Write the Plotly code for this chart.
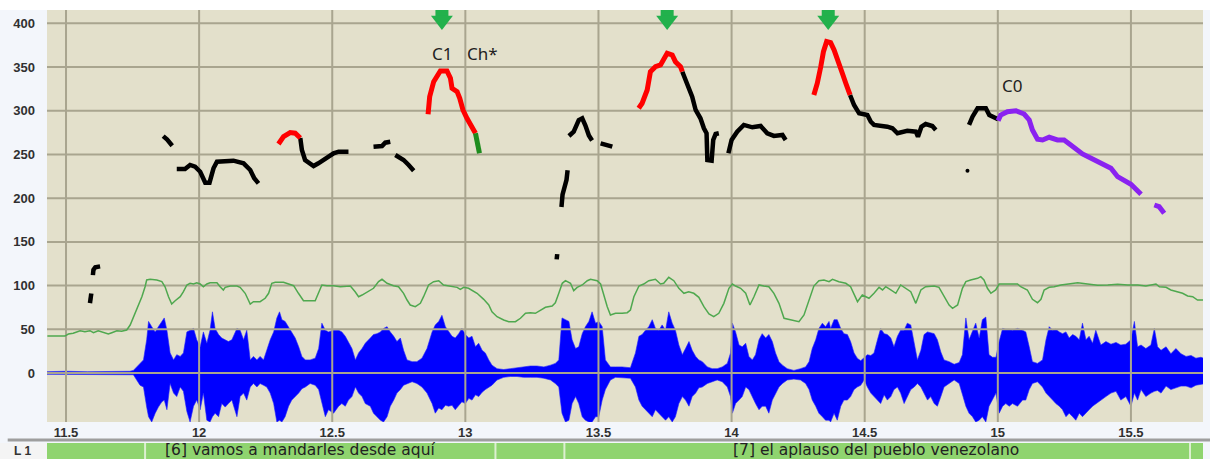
import plotly.graph_objects as go

# axis ticks
tick_t = [11.5, 12, 12.5, 13, 13.5, 14, 14.5, 15, 15.5]
tick_txt = ["11.5", "12", "12.5", "13", "13.5", "14", "14.5", "15", "15.5"]
f0_ticks = [0, 50, 100, 150, 200, 250, 300, 350, 400]
T0, T1 = 11.4286, 15.7707
V0, V1 = -56.06, 415.3

# waveform envelope (upper / lower)
wave_t = [11.42, 11.50, 11.58, 11.66, 11.74,
          11.753, 11.766, 11.778, 11.791, 11.803, 11.810, 11.822, 11.835, 11.847, 11.860, 11.869, 11.879, 11.891,
          11.904, 11.916, 11.929, 11.941, 11.954, 11.966, 11.979, 11.991, 12.004, 12.016, 12.029, 12.041, 12.050,
          12.060, 12.073, 12.085, 12.098, 12.110, 12.123, 12.142, 12.154, 12.167, 12.179, 12.192, 12.204, 12.217,
          12.229, 12.242, 12.254, 12.267, 12.280, 12.292, 12.302, 12.311, 12.323, 12.336, 12.348, 12.361, 12.374,
          12.386, 12.399, 12.417, 12.436, 12.449, 12.461, 12.474, 12.486, 12.505, 12.524, 12.536, 12.549, 12.561,
          12.574, 12.587, 12.599, 12.612, 12.624, 12.643, 12.655, 12.668, 12.681, 12.693, 12.706, 12.718, 12.731,
          12.743, 12.756, 12.768, 12.781, 12.800, 12.818, 12.837, 12.856, 12.875, 12.887,
          12.900, 12.912, 12.925, 12.937, 12.950, 12.962, 12.975, 12.987, 13.000, 13.013, 13.025, 13.038, 13.050,
          13.063, 13.075, 13.088, 13.100, 13.119, 13.144, 13.169, 13.194, 13.219, 13.244, 13.269, 13.295, 13.320,
          13.338, 13.351, 13.363, 13.376, 13.389, 13.401, 13.414, 13.426, 13.439, 13.451, 13.464, 13.476, 13.489,
          13.501, 13.514, 13.526, 13.545, 13.564, 13.589, 13.620, 13.639, 13.652, 13.664, 13.677, 13.689, 13.702,
          13.714, 13.727, 13.739, 13.752, 13.764, 13.777, 13.789, 13.802, 13.815, 13.827, 13.840, 13.852, 13.865,
          13.877, 13.890, 13.909, 13.927, 13.946, 13.965, 13.984, 13.996, 14.003, 14.015, 14.028, 14.040, 14.053,
          14.065, 14.078, 14.090, 14.103, 14.115, 14.128, 14.140, 14.153, 14.165, 14.178, 14.191, 14.209, 14.234,
          14.259, 14.278, 14.291, 14.303, 14.316, 14.328, 14.341, 14.353, 14.366,
          14.372, 14.385, 14.397, 14.410, 14.422, 14.435, 14.447, 14.460, 14.472, 14.485, 14.498, 14.510, 14.523,
          14.535, 14.548, 14.560, 14.573, 14.585, 14.598, 14.610, 14.623, 14.635, 14.648, 14.660, 14.673, 14.686,
          14.698, 14.711, 14.723, 14.736, 14.748, 14.761, 14.773, 14.786, 14.798, 14.817, 14.836, 14.855, 14.867,
          14.880, 14.892, 14.905, 14.917, 14.930, 14.942, 14.955, 14.967, 14.980, 14.993, 15.005, 15.018, 15.030,
          15.043, 15.055, 15.074, 15.093, 15.105, 15.118, 15.130, 15.149, 15.168, 15.181, 15.193, 15.206, 15.218,
          15.231, 15.243, 15.256, 15.268, 15.281, 15.293, 15.306, 15.318, 15.331, 15.343, 15.356, 15.368, 15.387,
          15.406, 15.425, 15.444, 15.462, 15.481, 15.500, 15.513, 15.525, 15.538, 15.556, 15.575, 15.588, 15.600,
          15.613, 15.632, 15.650, 15.669, 15.688, 15.707, 15.726, 15.744, 15.763, 15.782]
wave_hi = [1.5, 2, 1.5, 2, 2,
           3, 7, 11, 15, 38, 59, 53, 47, 53, 59, 63, 49, 23, 15, 21, 19, 23, 47, 49, 51, 38, 30, 47, 34, 49, 70,
           51, 44, 40, 38, 36, 38, 51, 49, 38, 49, 15, 19, 15, 19, 15, 26, 38, 47, 63, 70, 61, 59, 53, 47, 40, 30,
           19, 15, 15, 17, 28, 57, 49, 47, 49, 49, 47, 42, 36, 28, 15, 23, 28, 34, 40, 44, 45, 47, 51, 53, 47, 42,
           36, 40, 26, 15, 13, 13, 17, 28, 47, 55,
           59, 66, 53, 47, 42, 40, 45, 51, 44, 40, 42, 30, 34, 26, 23, 15, 9, 5, 4, 5, 6, 7, 8, 8, 7, 9, 11, 15,
           63, 61, 59, 38, 28, 30, 45, 53, 59, 70, 57, 59, 53, 15, 7, 7, 7, 6, 23, 42, 44, 49, 53, 61, 51, 49, 55,
           49, 70, 57, 49, 32, 21, 28, 36, 26, 19, 15, 13, 7, 5, 5, 7, 11, 23, 57, 47, 32, 30, 34, 19, 15, 21, 38,
           45, 40, 44, 36, 23, 13, 9, 5, 3, 5, 7, 13, 28, 38, 51, 57, 53, 59,
           51, 61, 61, 51, 45, 44, 36, 23, 17, 14, 18, 21, 20, 23, 38, 51, 45, 44, 40, 30, 42, 49, 49, 57, 55, 32,
           15, 26, 44, 47, 46, 45, 38, 24, 15, 13, 10, 12, 21, 63, 38, 49, 57, 40, 61, 64, 21, 18, 18, 36, 51, 50,
           50, 49, 51, 49, 47, 30, 13, 11, 15, 38, 53, 49, 50, 47, 45, 47, 40, 44, 42, 38, 57, 38, 42, 34, 49, 32,
           36, 33, 35, 32, 33, 38, 59, 30, 32, 28, 32, 51, 30, 26, 30, 22, 28, 22, 19, 20, 17, 18, 16]
wave_lo = [-1.5, -2, -1.5, -2, -2,
           -2, -8, -14, -16, -39, -50, -56, -46, -39, -33, -31, -42, -12, -23, -27, -16, -21, -44, -56, -38, -31,
           -42, -23, -54, -56, -50, -46, -50, -35, -39, -35, -31, -50, -27, -23, -31, -16, -12, -16, -12, -14, -16,
           -23, -35, -56, -54, -56, -50, -38, -31, -27, -23, -18, -16, -12, -14, -19, -35, -50, -42, -46, -38, -35,
           -38, -31, -27, -16, -23, -27, -35, -38, -46, -50, -54, -56, -50, -38, -31, -23, -19, -14, -12, -10, -12,
           -16, -23, -35, -46,
           -40, -42, -37, -38, -37, -42, -38, -33, -35, -29, -31, -25, -27, -22, -19, -16, -14, -8, -5, -4, -4, -5,
           -5, -5, -6, -8, -12, -16, -46, -56, -54, -35, -27, -35, -50, -54, -56, -56, -50, -50, -31, -19, -8, -5,
           -5, -6, -16, -31, -38, -42, -46, -50, -42, -46, -50, -54, -50, -56, -50, -35, -27, -31, -38, -27, -23,
           -17, -16, -12, -10, -8, -10, -16, -27, -46, -35, -31, -27, -16, -19, -27, -35, -42, -38, -38, -46, -31,
           -23, -16, -12, -8, -7, -8, -12, -19, -31, -38, -46, -50, -54, -54,
           -56, -46, -54, -38, -31, -31, -27, -19, -16, -14, -8, -16, -23, -27, -31, -35, -25, -31, -27, -19, -16,
           -23, -35, -27, -19, -16, -12, -16, -23, -31, -27, -35, -38, -27, -16, -12, -8, -12, -23, -38, -46, -50,
           -56, -54, -50, -56, -38, -31, -23, -46, -38, -35, -38, -35, -38, -31, -31, -19, -12, -10, -16, -23, -27,
           -31, -35, -38, -42, -50, -46, -50, -54, -46, -50, -46, -42, -38, -35, -31, -27, -23, -21, -31, -27, -38,
           -23, -31, -19, -27, -23, -21, -20, -23, -15, -19, -17, -15, -15, -17, -14, -13, -12]

# intensity curve
inten_t = [11.430, 11.496, 11.509, 11.527, 11.553, 11.571, 11.590, 11.603, 11.621, 11.640, 11.659, 11.672,
           11.691, 11.709, 11.728, 11.741, 11.759, 11.772, 11.785, 11.797, 11.803, 11.816, 11.841, 11.860,
           11.872, 11.885, 11.897, 11.910, 11.929, 11.941, 11.954, 11.966, 11.979, 11.991, 12.004, 12.016,
           12.029, 12.041, 12.067, 12.079, 12.091, 12.098, 12.117, 12.142, 12.154, 12.173, 12.192, 12.204,
           12.229, 12.248, 12.261, 12.273, 12.286, 12.317, 12.336, 12.355, 12.373, 12.392, 12.436, 12.449,
           12.461, 12.480, 12.505, 12.530, 12.549, 12.568, 12.586, 12.599, 12.612, 12.636, 12.655, 12.674,
           12.687, 12.706, 12.730, 12.749, 12.768, 12.781, 12.793, 12.812, 12.831, 12.843, 12.862, 12.881,
           12.900, 12.918, 12.944, 12.969, 12.981, 12.994, 13.012, 13.025, 13.044, 13.069, 13.088, 13.100,
           13.119, 13.144, 13.163, 13.188, 13.207, 13.226, 13.244, 13.263, 13.282, 13.301, 13.326, 13.338,
           13.351, 13.364, 13.376, 13.395, 13.407, 13.420, 13.439, 13.458, 13.470, 13.495, 13.508, 13.520,
           13.533, 13.545, 13.564, 13.589, 13.608, 13.620, 13.633, 13.652, 13.670, 13.689, 13.714, 13.733,
           13.745, 13.764, 13.783, 13.802, 13.821, 13.839, 13.858, 13.877, 13.896, 13.915, 13.933, 13.952,
           13.971, 13.990, 14.003, 14.015, 14.034, 14.053, 14.069, 14.084, 14.103, 14.121, 14.140, 14.159,
           14.178, 14.197, 14.215, 14.241, 14.253, 14.272, 14.297, 14.309, 14.328, 14.347, 14.366, 14.379,
           14.403, 14.429, 14.447, 14.473, 14.491, 14.516, 14.535, 14.554, 14.567, 14.579, 14.598, 14.617,
           14.635, 14.654, 14.673, 14.692, 14.711, 14.729, 14.761, 14.779, 14.798, 14.817, 14.830, 14.849,
           14.867, 14.880, 14.898, 14.924, 14.936, 14.948, 14.961, 14.974, 14.992, 15.005, 15.036, 15.074,
           15.086, 15.111, 15.130, 15.149, 15.162, 15.174, 15.193, 15.212, 15.237, 15.268, 15.300, 15.337,
           15.375, 15.413, 15.450, 15.488, 15.526, 15.556, 15.582, 15.594, 15.607, 15.632, 15.650, 15.669,
           15.694, 15.713, 15.732, 15.750, 15.775]
inten_v = [42.3, 42.3, 44.6, 45.4, 48.4, 47.3, 48.4, 46.1, 48.4, 46.1, 44.6, 46.1, 48.4, 47.7, 49.2, 54.9,
           68.3, 75.9, 87.3, 98.7, 106.4, 107.2, 106.4, 104.5, 98.7, 87.3, 78.9, 82.7, 87.3, 93, 100.7, 102.6,
           101.8, 103.3, 101.8, 98.7, 101.8, 103.3, 103.3, 98.7, 95, 98, 99.5, 99.5, 98, 91.2, 78.9, 81.6,
           81.6, 85.5, 91.2, 102.6, 103.8, 103.8, 101.8, 99.9, 91.2, 82.7, 82.7, 91.2, 100.7, 99.9, 99.9, 98.7,
           98.7, 99.5, 93, 87.3, 89.2, 93, 96.9, 104.5, 107.2, 102.6, 99.9, 98.7, 91.2, 83.5, 77.8, 75.9, 79.7,
           87.3, 100.7, 104.5, 105.6,
           100.7, 99.5, 98, 95.7, 98, 96.9, 94.2, 91.2, 84.3, 77.8, 70.1, 64.4, 60.6, 58.7, 58.7, 62.6, 68.3,
           69, 68.3, 72.1, 75.2, 76.7, 80.4, 91.2, 102.6, 105.6, 102.6, 94.2, 98, 100.7, 105.6, 107.2, 105.6,
           101.8, 89.2, 75.9, 66.4, 68.3, 68.3, 69, 72.1, 87.3, 99.5, 101.8, 105.6, 107.2, 101.8, 102.6, 109.5,
           105.6, 96.9, 91.2, 93, 91.2, 86.6, 75.9, 67.5, 64.4, 68.3, 79.7, 96.9, 101.8, 99.5, 96.9, 91.2, 77.8,
           87.3, 100.7, 99.5, 98.7, 91.2, 79.7, 62.6, 61.4, 59.8, 58.7, 66.4, 87.3, 99.5, 105.6, 106.4, 104.5,
           107.2, 104.5, 102.6, 98.7, 81.6, 89.2, 85.5, 91.2, 98, 95, 98.7, 95, 91.2, 100.7, 96.9, 93, 79.7, 95,
           98.7, 99.5, 98, 87.3, 77.8, 74, 77.8, 96.9, 104.5, 106.4, 108.3, 110.2, 106.4, 96.9, 91.2, 95, 101.8,
           101.8, 101.8, 98.7, 95, 84.3, 80.4, 84.3, 95, 98, 98.7, 100.7, 101.8, 103.3, 101.8, 100.3, 100.7,
           101.5, 100.7, 100.7, 99.5, 100.7, 101.8, 98.7, 98, 95, 93, 91.2, 88.1, 87.3, 83.5, 83.5]

# pitch contour (Hz), pieces split by None
black_t = [11.590, 11.593, 11.595, None,
           11.601, 11.603, 11.610, 11.628, None,
           11.865, 11.880, 11.899, None,
           11.916, 11.947, 11.966, 11.985, 12.004, 12.023, 12.039, 12.054, 12.067, 12.091, 12.129, 12.167,
           12.192, 12.207, 12.223, None,
           12.380, 12.386, 12.398, 12.430, 12.448, 12.474, 12.505, 12.524, 12.561, None,
           12.655, 12.687, 12.699, 12.718, None,
           12.737, 12.768, 12.787, 12.806, None,
           13.343, 13.345, None,
           13.361, 13.365, 13.380, 13.384, None,
           13.389, 13.407, 13.426, 13.439, 13.451, 13.464, 13.476, None,
           13.508, 13.552, None,
           13.815, 13.833, 13.852, 13.865, 13.883, 13.896, 13.906, 13.909, 13.925, 13.931, 13.940, 13.952, None,
           13.988, 14.000, 14.021, 14.046, 14.078, 14.109, 14.134, 14.159, 14.191, 14.203, None,
           14.445, 14.460, 14.479, 14.510, 14.523, 14.535, 14.585, 14.604, 14.623, 14.635, 14.660, 14.692,
           14.700, 14.713, 14.729, 14.754, 14.767, None,
           14.892, 14.905, 14.924, 14.955, 14.968, 14.987, 15.001]
black_v = [80, 84, 91, None,
           112, 118, 121, 122, None,
           271, 267, 260, None,
           233.4, 233.4, 238, 236, 230.3, 217.7, 217.7, 234.2, 241.8, 241.8, 242.9, 239.9, 232.3, 222.8, 217,
           None,
           268.9, 255.1, 243.7, 236.8, 239.9, 245.7, 251.4, 253.2, 253.2, None,
           258.9, 259.7, 263.5, 264.6, None,
           249.4, 243.7, 238, 231.5, None,
           130, 136, None,
           190, 204, 221, 232, None,
           271.2, 276.1, 289.4, 291.4, 283.2, 271.7, 266, None,
           262.8, 258.9, None,
           344.7, 329.5, 316.1, 300.9, 291.4, 280, 274.3, 243.7, 242.9, 266.6, 273.5, 274.3, None,
           251.4, 266.6, 276.1, 283.8, 281.1, 282.6, 274.3, 271.2, 272.3, 266.6, None,
           318.1, 306.6, 297.1, 295.2, 287.5, 283.8, 281.8, 280, 274.3, 274.9, 277.2, 276.1, 270.4, 281.8,
           284.9, 282.6, 278, None,
           283.8, 293.2, 302.9, 302.9, 295.2, 292.6, 290.3]
dot_t = [14.886]
dot_v = [231.5]
red_t = [12.298, 12.317, 12.342, 12.361, 12.380, None,
         12.860, 12.866, 12.881, 12.906, 12.931, 12.944, 12.950, 12.969, 12.979, 12.991, 13.006, 13.025, 13.038,
         None,
         13.651, 13.664, 13.683, 13.695, 13.714, 13.733, 13.758, 13.777, 13.789, 13.808, 13.815, None,
         14.309, 14.322, 14.335, 14.345, 14.357, 14.372, 14.385, 14.400, 14.416, 14.429, 14.445]
red_v = [262, 270.4, 275, 274.3, 268.9, None,
         296, 316.1, 333.3, 345.5, 345.5, 337.2, 325.7, 321.9, 314.3, 300.9, 291.4, 280, 274.3, None,
         302.9, 308.6, 323.8, 344.7, 350.5, 352.4, 365.8, 363.8, 356.2, 350.5, 344.7, None,
         318.1, 331.5, 350.5, 367.6, 379.1, 377.9, 369.6, 358.1, 342.9, 331.5, 318.1]
green_t = [13.038, 13.044, 13.053]
green_v = [274.3, 262.8, 251.4]
purple_t = [15.001, 15.011, 15.036, 15.068, 15.099, 15.118, 15.130, 15.149, 15.168, 15.193, 15.224, 15.249,
            15.274, 15.318, 15.343, 15.387, 15.425, 15.450, 15.500, 15.538, None, 15.588, 15.606, 15.625]
purple_v = [288.7, 295.2, 299, 300.1, 296.3, 289.5, 278, 267.4, 266.6, 269.7, 266.6, 266.6, 260.9, 250.6,
            246.8, 240.6, 234.2, 224.6, 215.9, 204.5, None, 192.2, 190.3, 182.7]

# marked peaks and labels
arrow_t = [12.912, 13.758, 14.363]
label_txt = ["C1", "Ch*", "C0"]
label_t = [12.868, 13.000, 15.008]
label_v = [366, 366, 329.5]

# annotation tier
tier_bounds = [11.797, 13.113, 13.372, 15.722]
tier_txt = ["[6] vamos a mandarles desde aquí", "[7] el aplauso del pueblo venezolano"]
tier_mid = [12.38, 14.541]

ARROW = "#22B14C"
GRID = "#A9A58F"
FONT = "Liberation Sans, Arial, sans-serif"

fig = go.Figure()

# waveform
fig.add_trace(go.Scatter(x=wave_t + wave_t[::-1], y=wave_hi + wave_lo[::-1], fill="toself",
                         fillcolor="#0000FF", mode="lines", line=dict(color="#2020FF", width=0.6),
                         hoverinfo="skip"))

# grid drawn above the waveform
gx, gy = [], []
for t in tick_t:
    gx += [t, t, None]
    gy += [V0, V1, None]
for v in f0_ticks:
    gx += [T0, T1, None]
    gy += [v, v, None]
fig.add_trace(go.Scatter(x=gx, y=gy, mode="lines", line=dict(color=GRID, width=2), hoverinfo="skip"))

# intensity
fig.add_trace(go.Scatter(x=inten_t, y=inten_v, mode="lines", line=dict(color="#4FA84F", width=1.5)))

# pitch
fig.add_trace(go.Scatter(x=black_t, y=black_v, mode="lines", line=dict(color="#000000", width=4.5)))
fig.add_trace(go.Scatter(x=dot_t, y=dot_v, mode="markers", marker=dict(color="#000000", size=4)))
fig.add_trace(go.Scatter(x=red_t, y=red_v, mode="lines", line=dict(color="#FF0000", width=5)))
fig.add_trace(go.Scatter(x=green_t, y=green_v, mode="lines", line=dict(color="#1E8C1E", width=5)))
fig.add_trace(go.Scatter(x=purple_t, y=purple_v, mode="lines", line=dict(color="#8A22F0", width=5)))

# arrows
sx, sy = [], []
for t in arrow_t:
    sx += [t, t, None]
    sy += [V1, 404, None]
fig.add_trace(go.Scatter(x=sx, y=sy, mode="lines", line=dict(color=ARROW, width=13)))
fig.add_trace(go.Scatter(x=arrow_t, y=[403.3] * len(arrow_t), mode="markers",
                         marker=dict(symbol="triangle-down", size=19, color=ARROW, line=dict(width=0))))

for txt, t, v in zip(label_txt, label_t, label_v):
    fig.add_annotation(x=t, y=v, text=txt, showarrow=False, xanchor="left", yanchor="middle",
                       font=dict(family="Noto Sans", size=17, color="#222222"))

# tier row
shapes = [
    dict(type="rect", xref="paper", yref="paper", x0=-0.05, x1=1.05, y0=1, y1=1.05,
         fillcolor="white", line=dict(width=0), layer="below"),
    dict(type="line", xref="paper", yref="paper", x0=-0.034, x1=1.01, y0=0.0423, y1=0.0423,
         line=dict(color="#9E9E9E", width=3)),
    dict(type="rect", xref="paper", yref="paper", x0=-0.0407, x1=0, y0=0, y1=0.0356,
         fillcolor="#F4F4F4", line=dict(width=0)),
    dict(type="rect", xref="x2 domain", yref="y2", x0=0, x1=1, y0=0, y1=1,
         fillcolor="#8FD46F", line=dict(width=0)),
]
for b in tier_bounds:
    shapes.append(dict(type="line", xref="x2", yref="y2", x0=b, x1=b, y0=0, y1=1,
                       line=dict(color="#DCEFD0", width=2)))
for txt, t in zip(tier_txt, tier_mid):
    fig.add_annotation(x=t, y=0.58, xref="x2", yref="y2", text=txt, showarrow=False, borderpad=0,
                       font=dict(family="DejaVu Sans", size=15.5, color="#222222"))
fig.add_annotation(x=-0.03, y=0.5, xref="paper", yref="y2", text="L 1", showarrow=False,
                   font=dict(family=FONT, size=12, color="#333333", weight="bold"))

tickfont = dict(family=FONT, size=13, color="#303030", weight="bold")
fig.update_layout(
    width=1210, height=459,
    margin=dict(l=47, r=7, t=10, b=0),
    paper_bgcolor="#F3F6FB", plot_bgcolor="#E3E0CB",
    showlegend=False,
    shapes=shapes,
    xaxis=dict(domain=[0, 1], anchor="y", range=[T0, T1], tickvals=tick_t, ticktext=tick_txt,
               showgrid=False, zeroline=False, showline=False, ticks="", tickfont=tickfont,
               ticklabelstandoff=1),
    yaxis=dict(domain=[0.0824, 1], range=[V0, V1], tickvals=f0_ticks, showgrid=False,
               zeroline=False, showline=False, ticks="", tickfont=tickfont, ticklabelstandoff=11),
    xaxis2=dict(domain=[0, 1], anchor="y2", matches="x", visible=False),
    yaxis2=dict(domain=[0, 0.0356], range=[0, 1], visible=False),
)

fig.write_html("out.html", config={"displayModeBar": False},
               post_script="document.body.style.margin='0px';")
